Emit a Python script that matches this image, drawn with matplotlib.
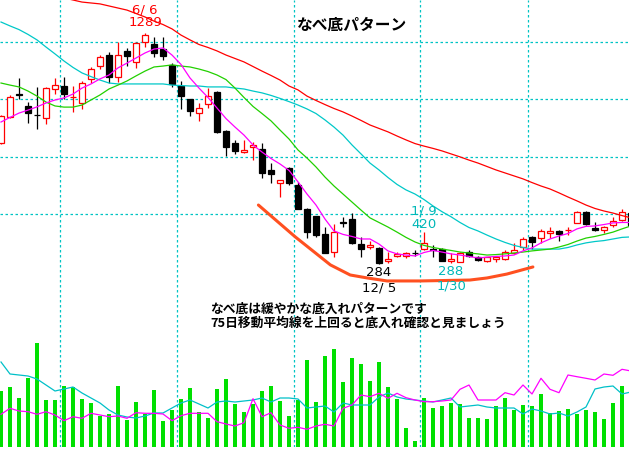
import matplotlib
matplotlib.use("Agg")
import matplotlib.pyplot as plt

plt.rcParams['font.family'] = ['Noto Sans CJK JP', 'DejaVu Sans']

# daily prices, oldest first
opens = [810, 923, 1021, 971, 933, 919, 1045, 1058, 1008, 984,
         1089, 1145, 1193, 1097, 1211, 1163, 1250, 1241, 1219, 1150,
         1058, 1001, 940, 980, 1032, 862, 810, 770, 794, 783,
         692, 635, 700, 626, 522, 491, 413, 334, 463, 478,
         369, 358, 352, 295, 317, 317, 332, 347, 349, 347,
         297, 292, 334, 312, 295, 304, 304, 330, 356, 400,
         395, 419, 426, 428, 461, 509, 437, 430, 452, 474, 505]
highs = [932, 1019, 1093, 988, 1054, 1054, 1093, 1097, 1058, 1080,
         1141, 1193, 1206, 1250, 1224, 1250, 1289, 1272, 1272, 1158,
         1080, 1003, 984, 1049, 1036, 864, 823, 823, 814, 810,
         722, 650, 705, 640, 524, 493, 443, 456, 487, 504,
         400, 382, 356, 334, 334, 334, 343, 420, 365, 352,
         330, 334, 343, 317, 314, 314, 343, 374, 400, 402,
         435, 443, 428, 443, 513, 513, 465, 446, 487, 522, 513]
lows = [805, 919, 1001, 897, 871, 892, 1023, 1001, 945, 958,
        1071, 1132, 1071, 1075, 1145, 1136, 1228, 1184, 1171, 1054,
        958, 927, 905, 962, 855, 753, 762, 768, 735, 657,
        635, 574, 626, 520, 395, 400, 328, 312, 443, 369,
        312, 347, 284, 286, 312, 308, 317, 343, 312, 293,
        288, 290, 312, 295, 290, 290, 299, 326, 343, 347,
        374, 395, 382, 408, 459, 452, 426, 417, 443, 469, 448]
closes = [927, 1010, 1017, 940, 931, 1049, 1062, 1023, 1012, 1071,
          1132, 1184, 1097, 1193, 1189, 1245, 1280, 1202, 1189, 1067,
          1014, 949, 962, 1014, 857, 792, 775, 779, 799, 679,
          674, 648, 635, 522, 422, 408, 330, 422, 459, 374,
          347, 363, 288, 304, 326, 330, 328, 374, 345, 295,
          302, 330, 317, 299, 312, 312, 334, 343, 391, 378,
          426, 424, 413, 432, 509, 456, 432, 443, 469, 509, 450]

# moving averages as drawn on the chart (None = off the top)
ma_short = [901, 921, 940, 953, 967, 984, 997, 1006, 1023, 1049,
            1067, 1089, 1106, 1137, 1158, 1180, 1202, 1219, 1224, 1193,
            1152, 1093, 1049, 1008, 962, 916, 879, 844, 801, 770,
            742, 718, 690, 640, 587, 539, 478, 426, 411, 402,
            391, 391, 369, 339, 326, 321, 317, 332, 341, 334,
            326, 321, 315, 308, 312, 315, 317, 321, 339, 352,
            374, 391, 404, 415, 435, 446, 448, 454, 461, 463, 463]
ma_mid = [1071, 1062, 1054, 1036, 1014, 988, 971, 966, 966, 975,
          997, 1019, 1045, 1062, 1080, 1102, 1123, 1141, 1145, 1150,
          1145, 1141, 1132, 1121, 1106, 1086, 1049, 1008, 969, 938,
          906, 866, 827, 779, 744, 705, 661, 622, 587, 552,
          517, 483, 463, 443, 421, 398, 378, 363, 354, 347,
          341, 334, 330, 326, 321, 323, 326, 330, 334, 339,
          343, 347, 356, 367, 382, 395, 402, 411, 421, 435, 448]
ma_25 = [1337, 1320, 1304, 1283, 1259, 1228, 1198, 1167, 1139, 1115,
         1099, 1084, 1071, 1067, 1067, 1067, 1067, 1067, 1067, 1062,
         1060, 1058, 1058, 1054, 1054, 1054, 1049, 1045, 1036, 1028,
         1017, 1004, 990, 975, 958, 938, 910, 879, 844, 801,
         762, 722, 692, 659, 629, 605, 587, 563, 535, 510,
         488, 463, 441, 426, 408, 391, 376, 363, 354, 347,
         347, 347, 347, 354, 365, 374, 380, 384, 391, 398, 400]
ma_75 = [None, None, None, None, None, None, None, 1442, 1433, 1424,
         1420, 1416, 1407, 1398, 1389, 1374, 1359, 1341, 1326, 1307,
         1280, 1259, 1239, 1226, 1211, 1193, 1178, 1163, 1143, 1123,
         1104, 1084, 1058, 1041, 1014, 995, 977, 960, 945, 927,
         908, 888, 873, 858, 840, 823, 807, 796, 786, 775,
         762, 749, 735, 722, 707, 692, 679, 666, 653, 637,
         622, 609, 592, 574, 557, 539, 524, 513, 504, 493, 483]

# volume (arbitrary units) and its two averages
volume = [563, 597, 490, 693, 1043, 470, 470, 610, 597, 480,
          437, 310, 330, 610, 270, 450, 330, 570, 260, 373,
          480, 590, 350, 290, 580, 680, 430, 350, 430, 560,
          610, 460, 310, 470, 870, 450, 910, 980, 650, 890,
          830, 660, 850, 600, 480, 190, 60, 490, 390, 410,
          440, 430, 290, 290, 280, 410, 490, 370, 420, 410,
          530, 340, 360, 380, 330, 370, 350, 280, 440, 610, 450]
vol_ma_a = [850, 730, 720, 710, 680, 620, 560, 580, 600, 540,
            490, 440, 370, 320, 300, 290, 310, 340, 340, 390,
            440, 470, 430, 390, 450, 460, 450, 460, 470, 490,
            450, 490, 490, 480, 390, 400, 410, 350, 440, 420,
            420, 420, 500, 540, 500, 480, 470, 460, 450, 470,
            490, 400, 410, 420, 400, 390, 390, 390, 330, 380,
            360, 330, 340, 310, 350, 400, 580, 600, 610, 530, 550]
vol_ma_b = [327, 387, 360, 353, 327, 353, 320, 263, 303, 287,
            337, 320, 303, 310, 287, 343, 337, 337, 330, 263,
            313, 337, 337, 337, 253, 230, 210, 243, 483, 303,
            343, 220, 187, 197, 177, 210, 227, 210, 387, 420,
            520, 503, 537, 487, 537, 493, 470, 453, 453, 460,
            470, 577, 620, 470, 470, 470, 543, 520, 620, 530,
            687, 577, 543, 720, 703, 687, 670, 730, 717, 777, 760]

month_breaks = [6.5, 19.5, 32.5, 46.5, 58.5]
grid_prices = [500, 750, 1000, 1250]

# hand drawn "pan" outline (candle index, price)
pan_x = [28.6, 32.7, 36.6, 38.8, 40.7, 42.9, 46.6, 52.1, 54.0, 56.2, 59.1]
pan_y = [539, 400, 278, 234, 221, 208, 208, 212, 221, 238, 269]

days = list(range(len(closes)))

fig = plt.figure(figsize=(6.29, 4.53), dpi=100)
rect = [0, 6 / 453, 1, 447 / 453]
ax = fig.add_axes(rect)
ax.set_xlim(-1 / 9, 628 / 9)
ax.set_ylim(-516, 1433)
for s in ax.spines.values():
    s.set_visible(False)
ax.set_xticks(month_breaks)
ax.set_yticks(grid_prices)
ax.tick_params(length=0, labelleft=False, labelbottom=False)
ax.grid(True, color='#00c4c4', linestyle=(0, (2, 2)), linewidth=0.9)
ax.set_axisbelow(True)

# candles
for i in days:
    o, h, l, c = opens[i], highs[i], lows[i], closes[i]
    up = c >= o
    col = '#ff0000' if up else '#000000'
    ax.vlines(i, l, h, color=col, linewidth=0.9, zorder=2)
    body = max(abs(c - o), 1.5)
    ax.bar(i, body, bottom=min(o, c), width=0.58,
           facecolor='white' if up else 'black', edgecolor=col,
           linewidth=0.9, zorder=3)

ax.plot(days, ma_75, color='#ff0000', linewidth=0.9, zorder=4)
ax.plot(days, ma_25, color='#00c8c8', linewidth=0.9, zorder=4)
ax.plot(days, ma_mid, color='#22d000', linewidth=0.9, zorder=4)
ax.plot(days, ma_short, color='#ff00ff', linewidth=0.9, zorder=4)

ax.plot(pan_x, pan_y, color='#ff5020', linewidth=2.2, zorder=5,
        solid_capstyle='round')

lab = dict(family=['Liberation Sans Narrow', 'DejaVu Sans'], fontsize=9.5,
           ha='center', va='center', zorder=6)
ax.text(16, 1389, '6/ 6', color='#ff0000', **lab)
ax.text(16, 1333, '1289', color='#ff0000', **lab)
ax.text(47, 513, '1/ 9', color='#00b8b8', **lab)
ax.text(47, 456, '420', color='#00b8b8', **lab)
ax.text(42, 247, '284', color='black', **lab)
ax.text(42, 177, '12/ 5', color='black', **lab)
ax.text(50, 251, '288', color='#00b8b8', **lab)
ax.text(50, 186, '1/30', color='#00b8b8', **lab)

# volume panel
vax = fig.add_axes(rect)
vax.patch.set_visible(False)
vax.set_xlim(-1 / 9, 628 / 9)
vax.set_ylim(0, 4470)
vax.axis('off')
vax.bar([d + 0.05 for d in days], volume, width=0.44, color='#00e000',
        linewidth=0)
vax.plot(days, vol_ma_a, color='#00c0c8', linewidth=0.9)
vax.plot(days, vol_ma_b, color='#ff00ff', linewidth=0.9)

fig.text(352 / 629, 1 - 25 / 453, 'なべ底パターン', fontsize=11.3,
         fontweight='bold', ha='center', va='center')
fig.text(210 / 629, 1 - 309 / 453, 'なべ底は緩やかな底入れパターンです',
         fontsize=9.2, fontweight='bold', ha='left', va='center')
fig.text(210 / 629, 1 - 323 / 453, '75日移動平均線を上回ると底入れ確認と見ましょう',
         fontsize=9.2, fontweight='bold', ha='left', va='center')

fig.savefig('out.png', dpi=100)
